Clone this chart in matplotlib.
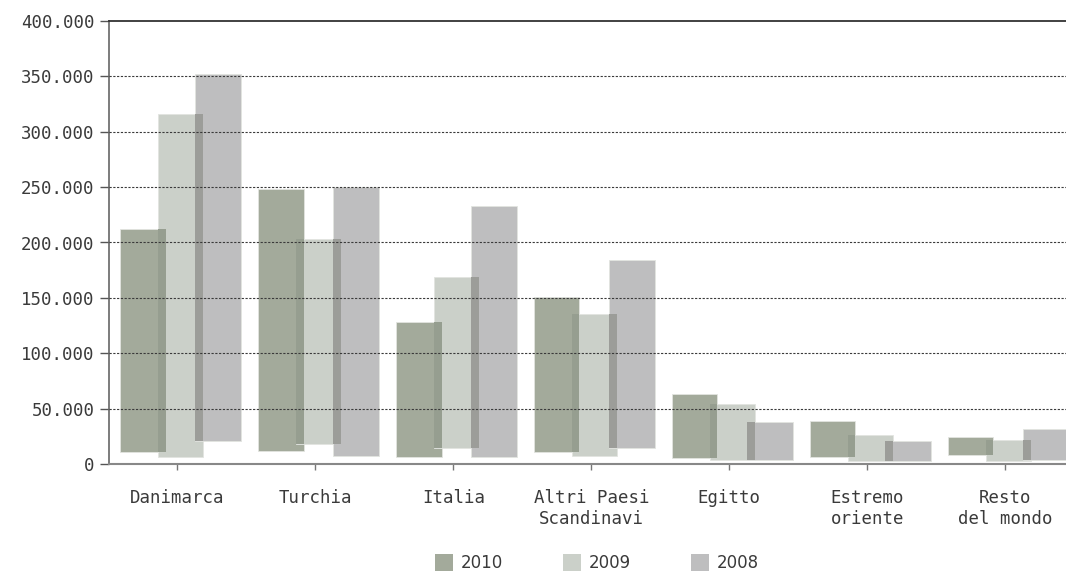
import numpy as np
import matplotlib.pyplot as plt
from matplotlib.patches import Patch
from matplotlib.ticker import FuncFormatter

# export volumes by destination, three years (bars float on a small base)
categories = ["Danimarca", "Turchia", "Italia", "Altri Paesi\nScandinavi",
              "Egitto", "Estremo\noriente", "Resto\ndel mondo"]
years = ["2010", "2009", "2008"]

top_2010 = [212000, 248000, 128000, 151000, 63500, 39000, 24000]
base_2010 = [11000, 12000, 6000, 11000, 5500, 6500, 8000]
top_2009 = [316000, 203000, 169000, 135000, 54000, 26000, 22000]
base_2009 = [6000, 18000, 14000, 7000, 3500, 3000, 3000]
top_2008 = [352000, 250000, 233000, 184500, 38000, 21000, 31500]
base_2008 = [21000, 7000, 6000, 14000, 3500, 3000, 3500]

yticks = [0, 50000, 100000, 150000, 200000, 250000, 300000, 350000, 400000]

colors = ["#a3aa9b", "#cbd0c9", "#bebebf"]
overlap_colors = ["#969e90", "#9c9d99"]

tops = [np.array(top_2010), np.array(top_2009), np.array(top_2008)]
bases = [np.array(base_2010), np.array(base_2009), np.array(base_2008)]

x = np.arange(len(categories))
width = 0.33
step = 0.2734
start = -0.4155

fig = plt.figure(figsize=(10.66, 5.74), dpi=100)
ax = fig.add_axes([109 / 1066, 110 / 574, 1 - 109 / 1066, 443 / 574])

lefts = []
for k in range(3):
    left = x + start + k * step
    lefts.append(left)
    ax.bar(left, tops[k] - bases[k], width=width, bottom=bases[k], align="edge",
           color=colors[k], edgecolor="#e2e4e0", linewidth=0.6, zorder=2)

# darker strip where neighbouring bars overlap
for k in range(2):
    lo = np.maximum(bases[k], bases[k + 1])
    hi = np.minimum(tops[k], tops[k + 1])
    ov_left = lefts[k + 1]
    ov_width = lefts[k] + width - lefts[k + 1]
    ax.bar(ov_left, hi - lo, width=ov_width, bottom=lo, align="edge",
           color=overlap_colors[k], linewidth=0, zorder=3)

for v in yticks[1:-1]:
    ax.axhline(v, color="#3a3a3a", linewidth=0.8, linestyle=(0, (2, 1.4)), zorder=4)

ax.set_xlim(-0.495, 6.44)
ax.set_ylim(0, 400000)
ax.set_yticks(yticks)
ax.yaxis.set_major_formatter(FuncFormatter(lambda v, p: f"{int(v):,}".replace(",", ".")))
ax.set_xticks(x)
ax.set_xticklabels(categories, family="DejaVu Sans Mono", fontsize=12.5,
                   color="#3a3a3a", linespacing=1.25)
for lab in ax.get_yticklabels():
    lab.set_family("DejaVu Sans Mono")
    lab.set_fontsize(12.5)
    lab.set_color("#3a3a3a")

ax.tick_params(axis="y", length=6.5, width=1, color="#555555", pad=4)
ax.tick_params(axis="x", length=4, width=1, color="#777777", pad=14)

ax.spines["right"].set_visible(False)
ax.spines["top"].set_color("#333333")
ax.spines["top"].set_linewidth(1.3)
ax.spines["left"].set_color("#666666")
ax.spines["left"].set_linewidth(1.2)
ax.spines["bottom"].set_color("#888888")
ax.spines["bottom"].set_linewidth(1.5)

handles = [Patch(facecolor=c, edgecolor="none", label=y) for c, y in zip(colors, years)]
fig.legend(handles=handles, loc="upper center", bbox_to_anchor=(0.56, 0.05),
           ncol=3, frameon=False, fontsize=12, handlelength=1.1, handleheight=1.25,
           handletextpad=0.45, columnspacing=3.6, borderpad=0,
           labelcolor="#3a3a3a")

fig.savefig("out.png", dpi=100)
